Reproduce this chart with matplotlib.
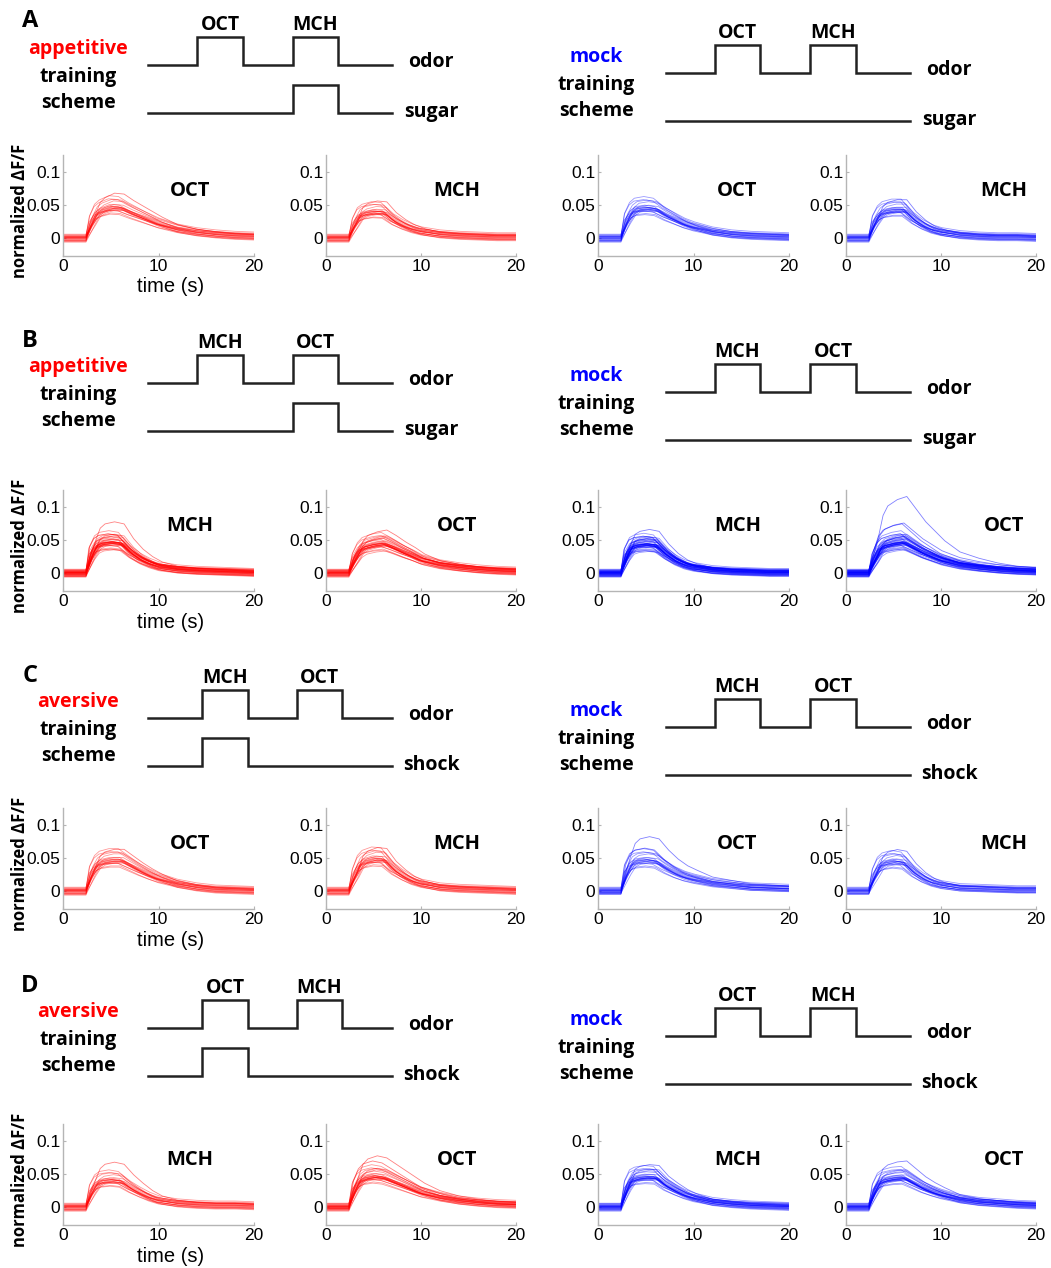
import matplotlib
matplotlib.use("Agg")
import matplotlib.pyplot as plt
import numpy as np

W, H = 1051, 1268
RED, BLUE = "#ff0000", "#0000ff"
SANS = ["Open Sans", "DejaVu Sans"]
TICKF = ["Liberation Sans", "DejaVu Sans"]

# ---- response traces: knot times (s) and per-panel mean dF/F at those knots
T = np.array([0, 2.4, 3, 3.5, 4, 5, 6, 7, 8, 9, 10, 12, 14, 16, 18, 20], dtype=float)

A_app_oct = [0, 0, 0.025, 0.038, 0.043, 0.048, 0.047, 0.040, 0.034, 0.028, 0.022, 0.014, 0.009, 0.006, 0.004, 0.003]
A_app_mch = [0, 0, 0.022, 0.034, 0.038, 0.041, 0.040, 0.028, 0.020, 0.014, 0.010, 0.006, 0.004, 0.003, 0.002, 0.002]
A_mock_oct = [0, 0, 0.028, 0.040, 0.045, 0.047, 0.045, 0.036, 0.029, 0.022, 0.017, 0.010, 0.006, 0.004, 0.003, 0.002]
A_mock_mch = [0, 0, 0.025, 0.036, 0.041, 0.044, 0.044, 0.030, 0.020, 0.013, 0.009, 0.005, 0.003, 0.002, 0.002, 0.001]
B_app_mch = [0, 0, 0.030, 0.042, 0.046, 0.048, 0.046, 0.032, 0.022, 0.015, 0.010, 0.006, 0.004, 0.003, 0.002, 0.001]
B_app_oct = [0, 0, 0.022, 0.034, 0.040, 0.044, 0.046, 0.040, 0.033, 0.027, 0.020, 0.013, 0.009, 0.006, 0.004, 0.003]
B_mock_mch = [0, 0, 0.028, 0.040, 0.043, 0.045, 0.043, 0.030, 0.020, 0.013, 0.009, 0.005, 0.003, 0.002, 0.001, 0.001]
B_mock_oct = [0, 0, 0.022, 0.036, 0.042, 0.046, 0.048, 0.040, 0.032, 0.026, 0.020, 0.013, 0.009, 0.006, 0.004, 0.003]
C_av_oct = [0, 0, 0.028, 0.040, 0.045, 0.048, 0.048, 0.040, 0.032, 0.025, 0.019, 0.011, 0.006, 0.003, 0.002, 0.001]
C_av_mch = [0, 0, 0.025, 0.040, 0.046, 0.050, 0.049, 0.034, 0.024, 0.016, 0.011, 0.006, 0.004, 0.003, 0.002, 0.001]
C_mock_oct = [0, 0, 0.030, 0.042, 0.046, 0.048, 0.046, 0.036, 0.028, 0.022, 0.018, 0.012, 0.009, 0.006, 0.005, 0.004]
C_mock_mch = [0, 0, 0.025, 0.038, 0.043, 0.046, 0.044, 0.030, 0.020, 0.013, 0.009, 0.005, 0.004, 0.003, 0.002, 0.002]
D_av_mch = [0, 0, 0.025, 0.036, 0.040, 0.042, 0.040, 0.030, 0.022, 0.015, 0.010, 0.006, 0.004, 0.003, 0.003, 0.002]
D_av_oct = [0, 0, 0.028, 0.040, 0.045, 0.048, 0.046, 0.040, 0.034, 0.028, 0.022, 0.015, 0.010, 0.007, 0.005, 0.004]
D_mock_mch = [0, 0, 0.030, 0.042, 0.045, 0.047, 0.046, 0.034, 0.026, 0.019, 0.014, 0.008, 0.005, 0.003, 0.002, 0.001]
D_mock_oct = [0, 0, 0.026, 0.038, 0.042, 0.045, 0.046, 0.038, 0.030, 0.024, 0.019, 0.012, 0.008, 0.006, 0.004, 0.003]

# per-fly variation (estimated spread of the bundles)
GAIN = [1.00, 0.92, 1.08, 0.85, 1.15, 0.97, 1.22, 0.80, 1.05, 0.90, 1.30, 0.95, 1.10, 0.78, 1.02,
        0.88, 1.18, 0.93, 1.06, 0.83, 1.12, 0.98, 0.86, 1.25, 0.94, 1.04, 0.82, 1.14, 0.91, 1.00,
        1.08, 0.87, 1.20, 0.96, 1.03, 0.89, 1.16, 0.84, 1.07, 0.99]
LAG = [0.00, 0.20, -0.20, 0.40, -0.10, 0.10, 0.30, -0.30, 0.00, 0.25, -0.20, 0.45, 0.10, -0.10, 0.30,
       0.00, -0.25, 0.15, 0.35, -0.15, 0.05, 0.20, -0.05, 0.40, 0.10, -0.20, 0.30, 0.00, 0.15, -0.10,
       0.25, 0.05, -0.30, 0.35, 0.10, -0.15, 0.20, 0.00, 0.30, -0.05]
BASE = [0.000, 0.003, -0.003, 0.005, -0.004, 0.001, -0.002, 0.004, -0.005, 0.000, 0.002, -0.003,
        0.006, -0.001, 0.002, -0.004, 0.003, 0.000, -0.006, 0.002, 0.001, -0.002, 0.005, -0.001,
        0.000, 0.003, -0.004, 0.001, 0.004, -0.001, 0.000, -0.005, 0.002, 0.001, -0.002, 0.003,
        0.000, -0.001, 0.002, -0.003]

# rows of trace panels: (mean curve, title, n traces, outlier gains)
ROWS = [
    [(A_app_oct, "OCT", 20, [1.4]), (A_app_mch, "MCH", 20, [1.35]),
     (A_mock_oct, "OCT", 20, []), (A_mock_mch, "MCH", 20, [1.3])],
    [(B_app_mch, "MCH", 35, [1.6]), (B_app_oct, "OCT", 30, [1.4]),
     (B_mock_mch, "MCH", 40, [1.45]), (B_mock_oct, "OCT", 40, [2.4, 1.6, 1.5])],
    [(C_av_oct, "OCT", 20, [1.3]), (C_av_mch, "MCH", 20, [1.3]),
     (C_mock_oct, "OCT", 18, [1.7, 1.4]), (C_mock_mch, "MCH", 18, [1.35])],
    [(D_av_mch, "MCH", 20, [1.6]), (D_av_oct, "OCT", 25, [1.6, 1.5]),
     (D_mock_mch, "MCH", 25, [1.35]), (D_mock_oct, "OCT", 25, [1.5])],
]

# ---- training schemes: odor order, US row label, which pulse is paired
SCHEMES = [
    ("appetitive", RED, ["OCT", "MCH"], "sugar", 1),
    ("appetitive", RED, ["MCH", "OCT"], "sugar", 1),
    ("aversive", RED, ["MCH", "OCT"], "shock", 0),
    ("aversive", RED, ["OCT", "MCH"], "shock", 0),
]
PULSES_AB = [(20.1, 39.0), (59.4, 77.9)]
PULSES_CD = [(22.1, 41.0), (61.0, 79.5)]
PULSES_MOCK = [(20.1, 38.5), (59.0, 77.9)]

# ---- layout (pixels)
LETTERS = ["A", "B", "C", "D"]
LETTER_Y = [21, 341, 676, 986]
SCH_LEFT_TOP = [37, 355, 690, 1000]
SCH_RIGHT_TOP = [45, 364, 699, 1008]
AX_TOP = [155, 490, 808, 1124]
AX_X = [(63, 254), (326, 516), (598, 789), (846, 1036)]
TITLE_X = [0.665, 0.69, 0.73, 0.83]

fig = plt.figure(figsize=(W / 100, H / 100), dpi=100)


def px_axes(x0, x1, y0, y1):
    return fig.add_axes([x0 / W, 1 - y1 / H, (x1 - x0) / W, (y1 - y0) / H])


def step_line(pulses):
    xs, ys = [0], [0]
    for a, b in pulses:
        xs += [a, a, b, b]
        ys += [0, 1, 1, 0]
    xs.append(100)
    ys.append(0)
    return np.array(xs), np.array(ys)


def draw_scheme(x0, ytop, kind, kcolor, odors, us, paired, pulses):
    ax = px_axes(x0, x0 + 244, ytop, ytop + 76)
    ax.set_xlim(0, 100)
    ax.set_ylim(0, 76 / 28)
    ax.axis("off")
    odor_base = 48 / 28
    xs, ys = step_line(pulses)
    ax.plot(xs, ys + odor_base, color="#222222", lw=1.8, clip_on=False,
            solid_joinstyle="miter")
    us_p = [pulses[paired]] if paired is not None else []
    xs, ys = step_line(us_p)
    ax.plot(xs, ys, color="#222222", lw=1.8, clip_on=False, solid_joinstyle="miter")
    for (a, b), name in zip(pulses, odors):
        ax.text((a + b) / 2, odor_base + 1.43, name, ha="center", va="center",
                fontsize=14, fontweight="bold", family=SANS, clip_on=False)
    ax.text(116, odor_base + 0.11, "odor", ha="center", va="center",
            fontsize=14, fontweight="bold", family=SANS)
    ax.text(116, 0.05, us, ha="center", va="center",
            fontsize=14, fontweight="bold", family=SANS)
    for label, yy, c in [(kind, 2.29, kcolor), ("training", 1.29, "black"),
                         ("scheme", 0.36, "black")]:
        ax.text(-28.5, yy, label, ha="center", va="center", color=c,
                fontsize=14, fontweight="bold", family=SANS)


for r in range(4):
    kind, kc, odors, us, paired = SCHEMES[r]
    pulses = PULSES_AB if r < 2 else PULSES_CD
    draw_scheme(148, SCH_LEFT_TOP[r], kind, kc, odors, us, paired, pulses)
    draw_scheme(666, SCH_RIGHT_TOP[r], "mock", BLUE, odors, us, None, PULSES_MOCK)
    fig.text(30 / W, 1 - LETTER_Y[r] / H, LETTERS[r], ha="center", va="center",
             fontsize=17, fontweight="bold", family=SANS)

    top = AX_TOP[r]
    for c in range(4):
        mean, title, n, outl = ROWS[r][c]
        color = RED if c < 2 else BLUE
        ax = px_axes(AX_X[c][0], AX_X[c][1], top, top + 101)
        mean = np.array(mean)
        shift_mask = (T > 2.4) & (T <= 10)
        for i in range(n):
            x = T + LAG[i] * shift_mask
            ax.plot(x, GAIN[i] * mean + BASE[i], color=color, lw=0.6, alpha=0.4)
        for j, g in enumerate(outl):
            x = T + LAG[j + 3] * shift_mask
            ax.plot(x, g * mean + BASE[j + 5], color=color, lw=0.6, alpha=0.5)
        ax.set_xlim(0, 20)
        ax.set_ylim(-0.027, 0.126)
        ax.set_xticks([0, 10, 20])
        ax.set_yticks([0, 0.05, 0.1])
        ax.set_yticklabels(["0", "0.05", "0.1"])
        for s in ["top", "right"]:
            ax.spines[s].set_visible(False)
        for s in ["left", "bottom"]:
            ax.spines[s].set_color("#b5b5b5")
            ax.spines[s].set_linewidth(1.0)
        ax.tick_params(direction="in", length=2, color="#b5b5b5", pad=2,
                       labelsize=12.5)
        for lab in ax.get_xticklabels() + ax.get_yticklabels():
            lab.set_family(TICKF)
        ax.text(TITLE_X[c], 0.64, title, transform=ax.transAxes, ha="center",
                va="center", fontsize=14.5, fontweight="bold", family=SANS)

    fig.text(20 / W, 1 - (top + 56) / H, "normalized \u0394F/F", rotation=90,
             ha="center", va="center", fontsize=12, fontweight="bold", family=SANS)
    fig.text(171 / W, 1 - (top + 132) / H, "time (s)", ha="center", va="center",
             fontsize=14.5, family=TICKF)

fig.savefig("out.png", dpi=100)
